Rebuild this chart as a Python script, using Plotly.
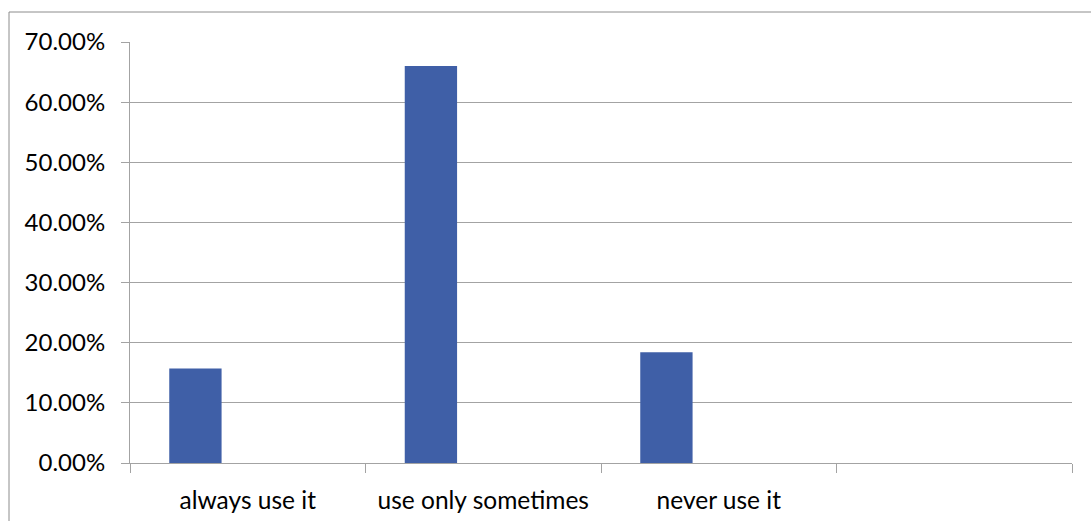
import plotly.graph_objects as go

categories = ["always use it", "use only sometimes", "never use it"]
extra_slot = [" "]
shares = [0.157, 0.66, 0.184]
y_ticks = [0, 0.1, 0.2, 0.3, 0.4, 0.5, 0.6, 0.7]

FONT = "Lato"
GRID = "#a3a3a3"

fig = go.Figure()
fig.add_trace(go.Bar(
    x=categories,
    y=shares,
    width=1 / 4.5,
    offset=-0.5 + 0.75 / 4.5,
    marker=dict(color="#3f5fa7", line=dict(width=0)),
    hoverinfo="skip",
))

fig.update_layout(
    width=1091, height=521,
    margin=dict(l=130, r=19, t=42, b=58),
    paper_bgcolor="white", plot_bgcolor="white",
    showlegend=False,
    font=dict(family=FONT, size=24, color="black"),
    xaxis=dict(
        type="category",
        categoryorder="array",
        categoryarray=categories + extra_slot,
        range=[-0.5, 3.5],
        tickson="boundaries",
        ticks="outside", ticklen=9, tickwidth=1, tickcolor=GRID,
        showline=True, linecolor=GRID, linewidth=1,
        showgrid=False, zeroline=False,
        automargin=False,
        ticklabelstandoff=16,
        tickfont=dict(family=FONT, size=24.5, color="black"),
    ),
    yaxis=dict(
        range=[0, 0.7],
        tickvals=y_ticks,
        tickformat=".2%",
        ticks="outside", ticklen=8, tickwidth=1, tickcolor=GRID,
        showline=True, linecolor=GRID, linewidth=1,
        showgrid=True, gridcolor=GRID, gridwidth=1,
        zeroline=False,
        automargin=False,
        ticklabelstandoff=11,
        tickfont=dict(family=FONT, size=24, color="black"),
    ),
    shapes=[dict(
        type="rect", xref="paper", yref="paper",
        x0=(9 - 130) / 942, x1=1.05,
        y0=-0.2, y1=(463 - 12) / 421,
        line=dict(color="#8c8c8c", width=1),
        fillcolor="rgba(0,0,0,0)", layer="below",
    )],
)

fig.write_html("out.html")
